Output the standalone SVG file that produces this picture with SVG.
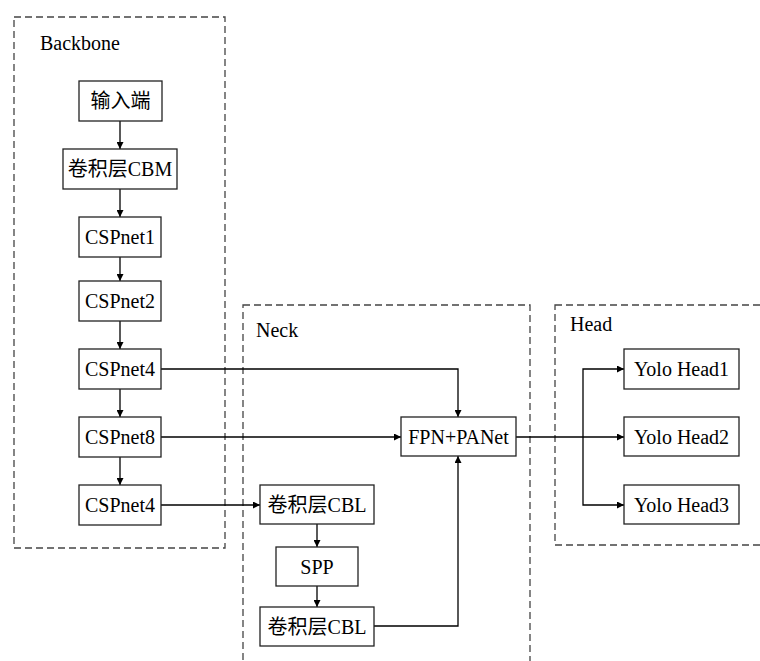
<svg xmlns="http://www.w3.org/2000/svg" width="760" height="661" viewBox="0 0 760 661">
<defs>
<marker id="ah" viewBox="0 0 10 10" refX="10" refY="5" markerWidth="7" markerHeight="7" markerUnits="userSpaceOnUse" orient="auto">
<path d="M0,0 L10,5 L0,10 z" fill="#000"/>
</marker>
</defs>
<style>
.grp{fill:none;stroke:#444;stroke-width:1.3;stroke-dasharray:7 4}
.box{fill:#fff;stroke:#222;stroke-width:1.3}
.t{font-family:"Liberation Serif","Noto Sans CJK SC",serif;font-size:20px;fill:#000;text-anchor:middle}
.lbl{font-family:"Liberation Serif","Noto Sans CJK SC",serif;font-size:20px;fill:#000}
.c{fill:none;stroke:#000;stroke-width:1.3;marker-end:url(#ah)}
</style>
<rect width="760" height="661" fill="#fff"/>
<g id="groups">
<rect class="grp" x="14" y="17" width="211" height="531"/>
<rect class="grp" x="243" y="305" width="287" height="380"/>
<rect class="grp" x="555" y="305" width="230" height="240"/>
<text class="lbl" x="40" y="50">Backbone</text>
<text class="lbl" x="256" y="337">Neck</text>
<text class="lbl" x="570" y="331">Head</text>
</g>
<g id="connectors">
<path class="c" d="M120,121 V149"/>
<path class="c" d="M120,189 V217"/>
<path class="c" d="M120,257 V281"/>
<path class="c" d="M120,321 V349"/>
<path class="c" d="M120,389 V417"/>
<path class="c" d="M120,457 V485"/>
<path class="c" d="M161,369 H458 V417"/>
<path class="c" d="M161,437 H401"/>
<path class="c" d="M161,505 H260"/>
<path class="c" d="M317,524 V547"/>
<path class="c" d="M317,586 V607"/>
<path class="c" d="M374,626 H458 V456"/>
<path class="c" d="M516,437 H624"/>
<path class="c" d="M583,437 V369 H624"/>
<path class="c" d="M583,437 V505 H624"/>
</g>
<g id="n-input"><rect class="box" x="79" y="81" width="83" height="40"/><text class="t" x="120.5" y="108">输入端</text></g>
<g id="n-cbm"><rect class="box" x="63" y="149" width="114" height="40"/><text class="t" x="120" y="176">卷积层CBM</text></g>
<g id="n-csp1"><rect class="box" x="79" y="217" width="82" height="40"/><text class="t" x="120" y="244">CSPnet1</text></g>
<g id="n-csp2"><rect class="box" x="79" y="281" width="82" height="40"/><text class="t" x="120" y="308">CSPnet2</text></g>
<g id="n-csp4a"><rect class="box" x="79" y="349" width="82" height="40"/><text class="t" x="120" y="376">CSPnet4</text></g>
<g id="n-csp8"><rect class="box" x="79" y="417" width="82" height="40"/><text class="t" x="120" y="444">CSPnet8</text></g>
<g id="n-csp4b"><rect class="box" x="79" y="485" width="82" height="40"/><text class="t" x="120" y="512">CSPnet4</text></g>
<g id="n-fpn"><rect class="box" x="401" y="417" width="115" height="39"/><text class="t" x="458.5" y="444">FPN+PANet</text></g>
<g id="n-cbl1"><rect class="box" x="260" y="485" width="114" height="39"/><text class="t" x="317" y="512">卷积层CBL</text></g>
<g id="n-spp"><rect class="box" x="276" y="547" width="82" height="39"/><text class="t" x="317" y="574">SPP</text></g>
<g id="n-cbl2"><rect class="box" x="260" y="607" width="114" height="39"/><text class="t" x="317" y="634">卷积层CBL</text></g>
<g id="n-yh1"><rect class="box" x="624" y="349" width="115" height="40"/><text class="t" x="681.5" y="376">Yolo Head1</text></g>
<g id="n-yh2"><rect class="box" x="624" y="417" width="115" height="39"/><text class="t" x="681.5" y="444">Yolo Head2</text></g>
<g id="n-yh3"><rect class="box" x="624" y="485" width="115" height="39"/><text class="t" x="681.5" y="512">Yolo Head3</text></g>
</svg>
